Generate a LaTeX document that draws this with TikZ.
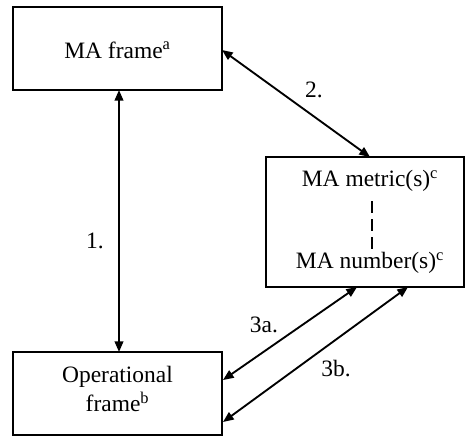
\documentclass[tikz,border=0pt]{standalone}
\usepackage{fontspec}
\setmainfont{Liberation Serif}
\usetikzlibrary{arrows.meta}
\begin{document}
\begin{tikzpicture}[x=0.75pt,y=-0.75pt,
  every node/.style={font=\fontsize{17.6}{21.5}\selectfont, inner sep=0pt},
  box/.style={draw, line width=1.5pt, rectangle},
  link/.style={line width=1.4pt, {Triangle[length=8pt,width=6.5pt]}-{Triangle[length=8pt,width=6.5pt]}},
  tag/.style={}]
\useasboundingbox (0,0) rectangle (466,436);
% boxes
\node[box, minimum width=209*0.75pt, minimum height=83*0.75pt] (ma) at (117.5,48.5) {};
\node (matext) at (117.5,50) {MA frame\textsuperscript{a}};
\node[box, minimum width=209*0.75pt, minimum height=83*0.75pt] (op) at (117.5,393.5) {};
\node[align=center] (optext) at (117.5,389) {Operational\\frame\textsuperscript{b}};
\node[box, minimum width=198*0.75pt, minimum height=130*0.75pt] (mm) at (365,222) {};
\node (metric) at (370,181) {MA metric(s)\textsuperscript{c}};
\node (number) at (370,263) {MA number(s)\textsuperscript{c}};
\draw[line width=1.1pt, dash pattern=on 9pt off 4.5pt] (372,201) -- (372,249);
% anchor points of the connectors
\coordinate (a1) at (119,90);
\coordinate (b1) at (119,352);
\coordinate (a2) at (222,50);
\coordinate (b2) at (370,157);
\coordinate (a3) at (223,380);
\coordinate (b3) at (357,287);
\coordinate (a4) at (223,422);
\coordinate (b4) at (408,287);
\draw[link] (a1) -- (b1);
\draw[link] (a2) -- (b2);
\draw[link] (a3) -- (b3);
\draw[link] (a4) -- (b4);
% labels
\node[tag] (l1) at (95,241) {1.};
\node[tag] (l2) at (314,90) {2.};
\node[tag] (l3a) at (264,325) {3a.};
\node[tag] (l3b) at (336,369) {3b.};
\end{tikzpicture}
\end{document}
